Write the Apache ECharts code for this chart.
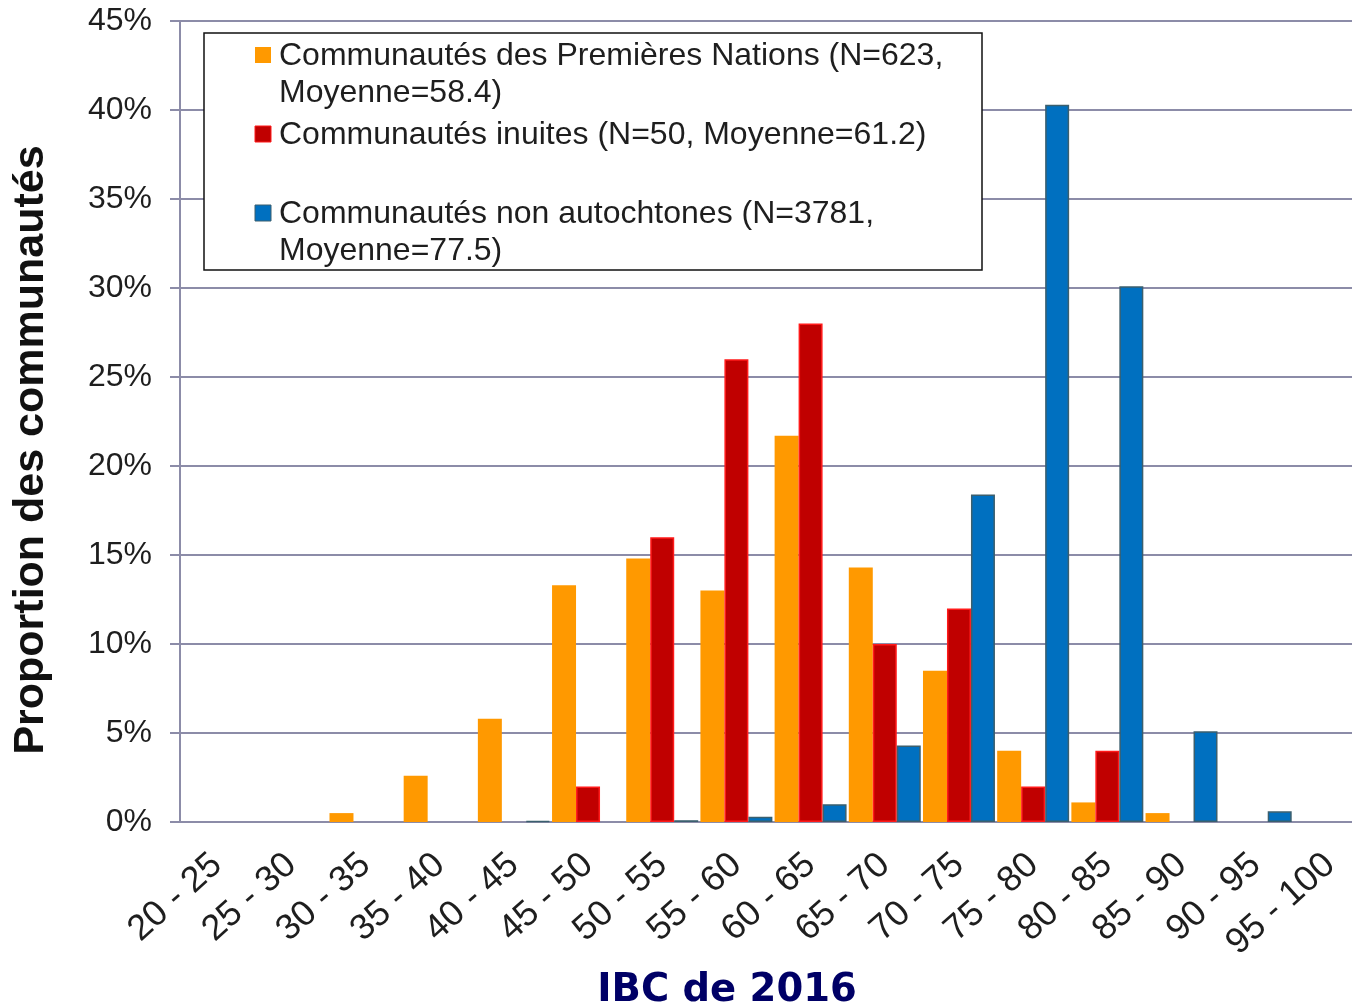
<!DOCTYPE html>
<html lang="fr">
<head>
    <meta charset="UTF-8">
    <title>IBC de 2016</title>
    <script src="https://cdn.jsdelivr.net/npm/echarts@6/dist/echarts.min.js"></script>
    <style>
        html, body { margin: 0; padding: 0; background: #fff; overflow: hidden; }
        #main { width: 1352px; height: 1007px; }
    </style>
</head>
<body>
<div id="main"></div>
<script>
    // categories (IBC classes)
    var categories = ['20 - 25', '25 - 30', '30 - 35', '35 - 40', '40 - 45', '45 - 50', '50 - 55', '55 - 60',
        '60 - 65', '65 - 70', '70 - 75', '75 - 80', '80 - 85', '85 - 90', '90 - 95', '95 - 100'];

    // proportion of communities, in %
    var premieresNations = [0, 0, 0.5, 2.6, 5.8, 13.3, 14.8, 13.0, 21.7, 14.3, 8.5, 4.0, 1.1, 0.5, 0, 0];
    var inuites          = [0, 0, 0, 0, 0, 2, 16, 26, 28, 10, 12, 2, 4, 0, 0, 0];
    var nonAutochtones   = [0, 0, 0, 0, 0.05, 0, 0.1, 0.3, 1.0, 4.3, 18.4, 40.3, 30.1, 5.1, 0.6, 0];

    var seriesNames = [
        'Communautés des Premières Nations (N=623, Moyenne=58.4)',
        'Communautés inuites (N=50, Moyenne=61.2)',
        'Communautés non autochtones (N=3781, Moyenne=77.5)'
    ];
    var legendText = [
        'Communautés des Premières Nations (N=623,\nMoyenne=58.4)',
        'Communautés inuites (N=50, Moyenne=61.2)',
        'Communautés non autochtones (N=3781,\nMoyenne=77.5)'
    ];

    var gridColor = '#8c8ca8';
    var textColor = '#1e1e1e';
    var font = 'Liberation Sans, Arial, sans-serif';

    // empty classes draw nothing (no border stub)
    function noZero(arr) {
        return arr.map(function (v) { return v === 0 ? null : v; });
    }

    var myChart = echarts.init(document.getElementById('main'));

    var option = {
        animation: false,
        backgroundColor: '#fff',
        grid: {
            left: 180,
            top: 21,
            width: 1187,   // last class runs past the picture's right edge
            bottom: 185,
            containLabel: false,
            outerBoundsMode: 'none'
        },
        xAxis: {
            type: 'category',
            data: categories,
            axisLine: { lineStyle: { color: gridColor, width: 2 } },
            axisTick: { length: 10, lineStyle: { color: gridColor, width: 2 } },
            axisLabel: {
                rotate: 42,
                margin: 38,
                fontSize: 36,
                fontFamily: font,
                color: textColor
            }
        },
        yAxis: {
            type: 'value',
            min: 0,
            max: 45,
            interval: 5,
            axisLine: { show: true, lineStyle: { color: gridColor, width: 2 } },
            axisTick: { show: true, length: 10, lineStyle: { color: gridColor, width: 2 } },
            splitLine: { lineStyle: { color: gridColor, width: 2 } },
            axisLabel: {
                formatter: '{value}%',
                margin: 28,
                fontSize: 32,
                fontFamily: font,
                color: textColor
            }
        },
        series: [{
            name: seriesNames[0],
            type: 'bar',
            data: noZero(premieresNations),
            barGap: '0%',
            barCategoryGap: '3%',
            itemStyle: { color: '#ff9900' }
        },
        {
            name: seriesNames[1],
            type: 'bar',
            data: noZero(inuites),
            barGap: '0%',
            barCategoryGap: '3%',
            itemStyle: { color: '#c00000', borderColor: '#ff1a1a', borderWidth: 1.5 }
        },
        {
            name: seriesNames[2],
            type: 'bar',
            data: noZero(nonAutochtones),
            barGap: '0%',
            barCategoryGap: '3%',
            itemStyle: { color: '#0070c0', borderColor: '#3b5f6e', borderWidth: 1.5 }
        }],
        graphic: [
            // legend box
            { type: 'rect', z: 100, shape: { x: 204, y: 33, width: 778, height: 237 },
              style: { fill: '#fff', stroke: '#111', lineWidth: 1.5 } },
            { type: 'rect', z: 101, shape: { x: 255, y: 47, width: 16, height: 16 }, style: { fill: '#ff9900' } },
            { type: 'rect', z: 101, shape: { x: 255, y: 126, width: 16, height: 16 }, style: { fill: '#c00000', stroke: '#ff1a1a', lineWidth: 1 } },
            { type: 'rect', z: 101, shape: { x: 255, y: 205, width: 16, height: 16 }, style: { fill: '#0070c0', stroke: '#3b5f6e', lineWidth: 1 } },
            { type: 'text', z: 101, x: 279, y: 38,
              style: { text: legendText[0], font: '32px ' + font, lineHeight: 37, fill: textColor, verticalAlign: 'top' } },
            { type: 'text', z: 101, x: 279, y: 117,
              style: { text: legendText[1], font: '32px ' + font, lineHeight: 37, fill: textColor, verticalAlign: 'top' } },
            { type: 'text', z: 101, x: 279, y: 196,
              style: { text: legendText[2], font: '32px ' + font, lineHeight: 37, fill: textColor, verticalAlign: 'top' } },
            // axis titles
            { type: 'text', x: 31, y: 450, rotation: Math.PI / 2,
              style: { text: 'Proportion des communautés', font: 'bold 43px ' + font, fill: '#111',
                       align: 'center', verticalAlign: 'middle' } },
            { type: 'text', x: 727, y: 991,
              style: { text: 'IBC de 2016', font: 'bold 38.5px DejaVu Sans, Verdana, sans-serif', fill: '#000066',
                       align: 'center', verticalAlign: 'middle' } }
        ]
    };

    myChart.setOption(option);
</script>
</body>
</html>
